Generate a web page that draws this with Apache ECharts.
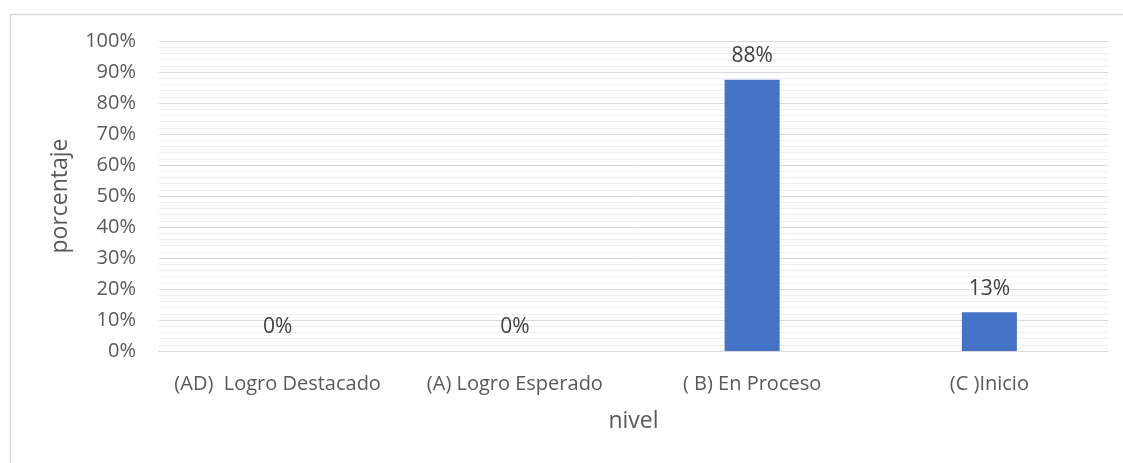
<!DOCTYPE html>
<html>
<head>
<meta charset="utf-8">
<script src="https://cdn.jsdelivr.net/npm/echarts@6/dist/echarts.min.js"></script>
<style>html,body{margin:0;padding:0;background:#fff;}#c{width:1123px;height:463px;}</style>
</head>
<body>
<div id="c"></div>
<script>
const categories = ['(AD)  Logro Destacado', '(A) Logro Esperado', '( B) En Proceso', '(C )Inicio'];
const values = [0, 0, 87.5, 12.5];
const yTicks = { min: 0, max: 100, interval: 10 };
const xTitle = 'nivel';
const yTitle = 'porcentaje';

const FONT = 'Open Sans';
const chart = echarts.init(document.getElementById('c'));
chart.setOption({
  animation: false,
  backgroundColor: '#fff',
  textStyle: { fontFamily: FONT },
  graphic: [{
    type: 'rect', left: 8, top: 12, silent: true,
    shape: { width: 1300, height: 600 },
    style: { fill: 'none', stroke: '#d9d9d9', lineWidth: 1.5 }
  }],
  grid: { left: 159, right: 15, top: 41, bottom: 112, containLabel: false },
  xAxis: {
    type: 'category', data: categories,
    name: xTitle, nameLocation: 'middle', nameGap: 59,
    nameTextStyle: { color: '#595959', fontSize: 23, fontFamily: FONT },
    axisLine: { show: true, lineStyle: { color: '#d9d9d9' } },
    axisTick: { show: false },
    axisLabel: { color: '#595959', fontSize: 20, margin: 23, interval: 0, hideOverlap: false, fontFamily: FONT }
  },
  yAxis: {
    type: 'value', min: yTicks.min, max: yTicks.max, interval: yTicks.interval,
    name: yTitle, nameLocation: 'middle', nameGap: 87, nameRotate: 90,
    nameTextStyle: { color: '#595959', fontSize: 23, fontFamily: FONT },
    axisLine: { show: false }, axisTick: { show: false },
    axisLabel: { color: '#595959', fontSize: 20, margin: 23, formatter: v => v + '%', fontFamily: FONT },
    splitLine: { show: true, lineStyle: { color: '#d9d9d9', width: 1 } },
    minorTick: { show: false, splitNumber: 5 },
    minorSplitLine: { show: true, lineStyle: { color: '#efefef', width: 1 } }
  },
  series: [{
    type: 'bar', data: values, barWidth: 55,
    itemStyle: { color: '#4472c4' },
    label: {
      show: true, position: 'top', distance: 13,
      color: '#404040', fontSize: 21, fontFamily: FONT,
      formatter: p => Math.round(p.value) + '%'
    }
  }]
});
</script>
</body>
</html>
